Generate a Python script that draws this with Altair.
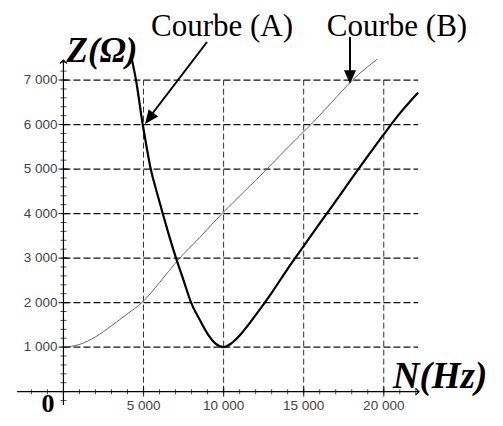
import altair as alt
import pandas as pd

# ---- data ----
curve_a_n = [4250, 4530, 4950, 5200, 5450, 5800, 6200, 6600, 7030, 7500, 7970, 8500, 9000, 9500,
             10000, 10500, 11000, 11500, 12000, 13000, 14000, 15000, 16000, 17000, 18000,
             19000, 20000, 21000, 22150]
curve_a_z = [7500, 7000, 6000, 5480, 5000, 4520, 4000, 3500, 3000, 2500, 2000, 1620, 1300, 1080,
             1000, 1090, 1260, 1480, 1720, 2220, 2760, 3270, 3780, 4280, 4790,
             5290, 5780, 6250, 6720]
curve_b_n = [0, 1000, 2000, 3000, 4000, 4900, 6000, 7140, 8500, 9900, 11300, 12700, 14050,
             15450, 16750, 18050, 19600]
curve_b_z = [1000, 1060, 1230, 1480, 1750, 2000, 2450, 2950, 3460, 4000, 4500, 5000, 5500,
             6000, 6500, 7000, 7470]

x_major = [5000, 10000, 15000, 20000]
x_labels = ["5 000", "10 000", "15 000", "20 000"]
y_major = [1000, 2000, 3000, 4000, 5000, 6000, 7000]
y_labels = ["1 000", "2 000", "3 000", "4 000", "5 000", "6 000", "7 000"]
x_minor = list(range(-2000, 22001, 1000))
y_minor = list(range(-200, 7401, 200))

X_DOM = [-2900, 22200]
Y_DOM = [-300, 7450]
X_END = 22150
Y_GRID_TOP = 7000

xs = alt.Scale(domain=X_DOM, nice=False, zero=False)
ys = alt.Scale(domain=Y_DOM, nice=False, zero=False)

df_a = pd.DataFrame({"n": curve_a_n, "z": curve_a_z})
df_b = pd.DataFrame({"n": curve_b_n, "z": curve_b_z})
df_xm = pd.DataFrame({"v": x_major, "label": x_labels, "o": 0, "top": Y_GRID_TOP})
df_ym = pd.DataFrame({"v": y_major, "label": y_labels, "o": 0, "end": X_END})
df_xn = pd.DataFrame({"v": x_minor, "o": 0})
df_yn = pd.DataFrame({"v": y_minor, "o": 0})
df_xax = pd.DataFrame({"a": [X_DOM[0]], "b": [X_DOM[1]], "o": [0]})
df_yax = pd.DataFrame({"a": [Y_DOM[0]], "b": [Y_DOM[1]], "o": [0]})
one = pd.DataFrame({"k": [0]})

SANS = "Liberation Sans"
SERIF = "Liberation Serif"

X = lambda f: alt.X(f, scale=xs, axis=None)
Y = lambda f: alt.Y(f, scale=ys, axis=None)

# grid
hgrid = alt.Chart(df_ym).mark_rule(color="#111", strokeWidth=1.2, strokeDash=[7, 3]).encode(
    y=Y("v:Q"), x=X("o:Q"), x2="end:Q")
vgrid = alt.Chart(df_xm).mark_rule(color="#333", strokeWidth=1, strokeDash=[6, 3]).encode(
    x=X("v:Q"), y=Y("o:Q"), y2="top:Q")

# axes
xaxis = alt.Chart(df_xax).mark_rule(color="black", strokeWidth=1.2).encode(
    x=X("a:Q"), x2="b:Q", y=Y("o:Q"))
yaxis = alt.Chart(df_yax).mark_rule(color="black", strokeWidth=1.2).encode(
    x=X("o:Q"), y=Y("a:Q"), y2="b:Q")
xarrow = alt.Chart(df_xax).mark_point(shape="M-1,-1L0,0L-1,1", filled=False, color="black",
                                      strokeWidth=1.2, size=50, opacity=1).encode(
    x=X("b:Q"), y=Y("o:Q"))
yarrow = alt.Chart(df_yax).mark_point(shape="M-1,1L0,0L1,1", filled=False, color="black",
                                      strokeWidth=1.2, size=50, opacity=1).encode(
    x=X("o:Q"), y=Y("b:Q"))

xminor = alt.Chart(df_xn).mark_tick(orient="vertical", size=5, thickness=1, color="black").encode(
    x=X("v:Q"), y=Y("o:Q"))
yminor = alt.Chart(df_yn).mark_tick(orient="horizontal", size=6, thickness=1, color="black").encode(
    y=Y("v:Q"), x=X("o:Q"))
xmajor = alt.Chart(df_xm).mark_tick(orient="vertical", size=10, thickness=1.2, color="black").encode(
    x=X("v:Q"), y=Y("o:Q"))
ymajor = alt.Chart(df_ym).mark_tick(orient="horizontal", size=10, thickness=1.2, color="black").encode(
    y=Y("v:Q"), x=X("o:Q"))

xlab = alt.Chart(df_xm).mark_text(font=SANS, fontSize=13.5, color="#444", align="center",
                                  baseline="top", dy=7).encode(
    x=X("v:Q"), y=Y("o:Q"), text="label:N")
ylab = alt.Chart(df_ym).mark_text(font=SANS, fontSize=13.5, color="#444", align="right",
                                  baseline="middle", dx=-6).encode(
    y=Y("v:Q"), x=X("o:Q"), text="label:N")

# curves
line_b = alt.Chart(df_b).mark_line(color="#555", strokeWidth=0.9, interpolate="monotone").encode(
    x=X("n:Q"), y=Y("z:Q"))
line_a = alt.Chart(df_a).mark_line(color="black", strokeWidth=2.2, interpolate="monotone").encode(
    x=X("n:Q"), y=Y("z:Q"))

# annotations (pixel offsets inside the plot area)
def txt(s, x, y, size, weight="normal", style="normal", font=SERIF):
    return alt.Chart(one).mark_text(text=s, font=font, fontSize=size, fontWeight=weight,
                                    fontStyle=style, color="black", align="center",
                                    baseline="alphabetic").encode(
        x=alt.value(x), y=alt.value(y))

t_z = txt("Z(Ω)", 85, 2, 35, "bold", "italic")
t_a = txt("Courbe (A)", 205, -24, 31)
t_b = txt("Courbe (B)", 380, -24, 31)
t_n = txt("N(Hz)", 423, 328, 37, "bold", "italic")
t_0 = txt("0", 31, 352, 26, "bold")

arr_a = alt.Chart(one).mark_rule(color="black", strokeWidth=2).encode(
    x=alt.value(190), y=alt.value(-18), x2=alt.value(132), y2=alt.value(58))
head_a = alt.Chart(one).mark_point(shape="M0,-1L-0.85,1L0.85,1Z", filled=True, color="black",
                                   size=196, angle=217, opacity=1).encode(
    x=alt.value(132.2), y=alt.value(58.4))
arr_b = alt.Chart(one).mark_rule(color="black", strokeWidth=2).encode(
    x=alt.value(333), y=alt.value(-23), x2=alt.value(333), y2=alt.value(17))
head_b = alt.Chart(one).mark_point(shape="M0,-1L-0.9,1L0.9,1Z", filled=True, color="black",
                                   size=180, angle=180, opacity=1).encode(
    x=alt.value(333), y=alt.value(17))

chart = alt.layer(
    hgrid, vgrid, xaxis, yaxis, xarrow, yarrow, xminor, yminor, xmajor, ymajor, xlab, ylab,
    line_b, line_a, t_z, t_a, t_b, t_n, t_0, arr_a, head_a, arr_b, head_b
).properties(
    width=402, height=345,
    padding={"left": 9, "top": 52, "right": 76, "bottom": 13},
    autosize=alt.AutoSizeParams(type="none"),
    background="white",
).configure_view(stroke=None)

chart.save("out.html", embed_options={"renderer": "svg", "actions": False})
